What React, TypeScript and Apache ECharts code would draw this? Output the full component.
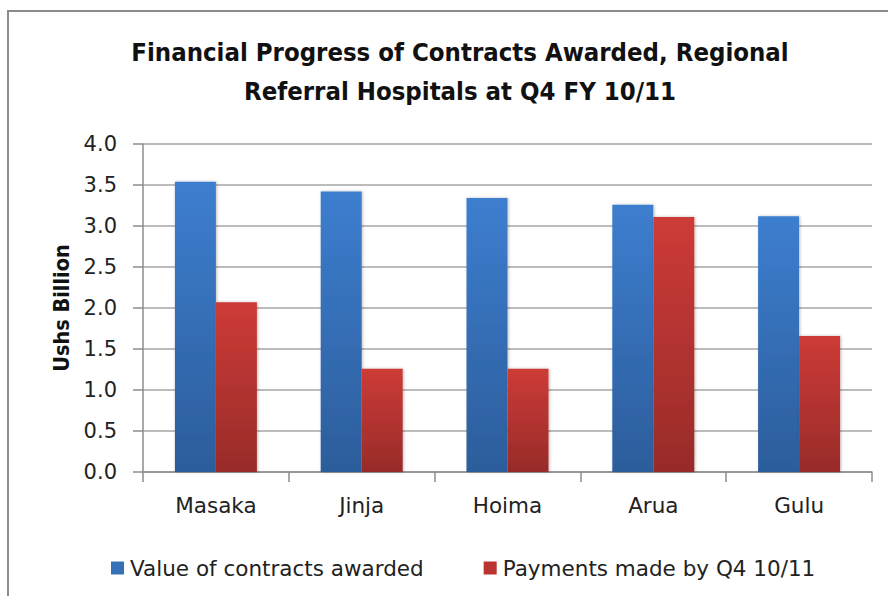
import React, { useEffect, useRef } from "react";
import * as echarts from "echarts";

const categories = ["Masaka", "Jinja", "Hoima", "Arua", "Gulu"];
const contractsAwarded = [3.54, 3.42, 3.34, 3.26, 3.12];
const paymentsMade = [2.07, 1.26, 1.26, 3.11, 1.66];
const seriesNames = ["Value of contracts awarded", "Payments made by Q4 10/11"];
const titleText = "Financial Progress of Contracts Awarded, Regional\nReferral Hospitals at Q4 FY 10/11";
const yAxisName = "Ushs Billion";

const COND = "'DejaVu Sans Condensed', 'DejaVu Sans', sans-serif";
const SANS = "'DejaVu Sans', sans-serif";

export default function App() {
  const ref = useRef<HTMLDivElement>(null);
  useEffect(() => {
    if (!ref.current) return;
    const chart = echarts.init(ref.current, undefined, { renderer: "svg" });
    const blue = new echarts.graphic.LinearGradient(0, 0, 0, 1, [
      { offset: 0, color: "#3d7ecf" },
      { offset: 1, color: "#2c5d9b" },
    ]);
    const red = new echarts.graphic.LinearGradient(0, 0, 0, 1, [
      { offset: 0, color: "#cd3b37" },
      { offset: 1, color: "#982b29" },
    ]);
    chart.setOption({
      animation: false,
      backgroundColor: "#ffffff",
      graphic: [
        {
          type: "rect",
          shape: { x: 8, y: 11, width: 1000, height: 1000 },
          style: { fill: "none", stroke: "#8c8c8c", lineWidth: 2 },
          silent: true,
        },
      ],
      title: {
        text: titleText,
        left: 455,
        top: 27,
        textAlign: "center",
        textStyle: {
          fontFamily: COND,
          fontSize: 25.5,
          fontWeight: "bold",
          color: "#111",
          lineHeight: 39,
        },
      },
      legend: {
        left: 106,
        top: 552,
        itemWidth: 13,
        itemHeight: 13,
        itemGap: 60,
        icon: "rect",
        textStyle: { fontFamily: SANS, fontSize: 21.5, color: "#222", padding: [0, 0, 0, 1] },
        data: [
          { name: seriesNames[0], itemStyle: { color: "#3570b8" } },
          { name: seriesNames[1], itemStyle: { color: "#bb3431" } },
        ],
      },
      grid: { left: 143, right: 16, top: 144, bottom: 124, containLabel: false },
      xAxis: {
        type: "category",
        data: categories,
        axisLine: { lineStyle: { color: "#8c8c8c", width: 1.5 } },
        axisTick: { show: true, length: 10, lineStyle: { color: "#8c8c8c", width: 1.5 } },
        axisLabel: { fontFamily: SANS, fontSize: 21.5, color: "#222", margin: 22 },
      },
      yAxis: {
        type: "value",
        min: 0,
        max: 4,
        interval: 0.5,
        name: yAxisName,
        nameLocation: "middle",
        nameGap: 71,
        nameRotate: 90,
        nameTextStyle: { fontFamily: COND, fontSize: 21.5, fontWeight: "bold", color: "#111" },
        axisLine: { show: true, lineStyle: { color: "#8c8c8c", width: 1.5 } },
        axisTick: { show: true, length: 10, lineStyle: { color: "#8c8c8c", width: 1.5 } },
        axisLabel: {
          fontFamily: SANS,
          fontSize: 21,
          color: "#222",
          margin: 26,
          formatter: (v: number) => v.toFixed(1),
        },
        splitLine: { show: true, lineStyle: { color: "#a6a6a6", width: 1.5 } },
      },
      series: [
        {
          name: seriesNames[0],
          type: "bar",
          data: contractsAwarded,
          barWidth: 41,
          barGap: "0%",
          itemStyle: { color: blue, shadowColor: "rgba(0,0,0,0.25)", shadowBlur: 3, shadowOffsetX: 1, shadowOffsetY: 0 },
        },
        {
          name: seriesNames[1],
          type: "bar",
          data: paymentsMade,
          barWidth: 41,
          barGap: "0%",
          itemStyle: { color: red, shadowColor: "rgba(0,0,0,0.25)", shadowBlur: 3, shadowOffsetX: 1, shadowOffsetY: 0 },
        },
      ],
    });
    return () => chart.dispose();
  }, []);
  return (
    <div
      ref={ref}
      style={{ position: "fixed", left: 0, top: 0, width: 888, height: 596 }}
    />
  );
}
